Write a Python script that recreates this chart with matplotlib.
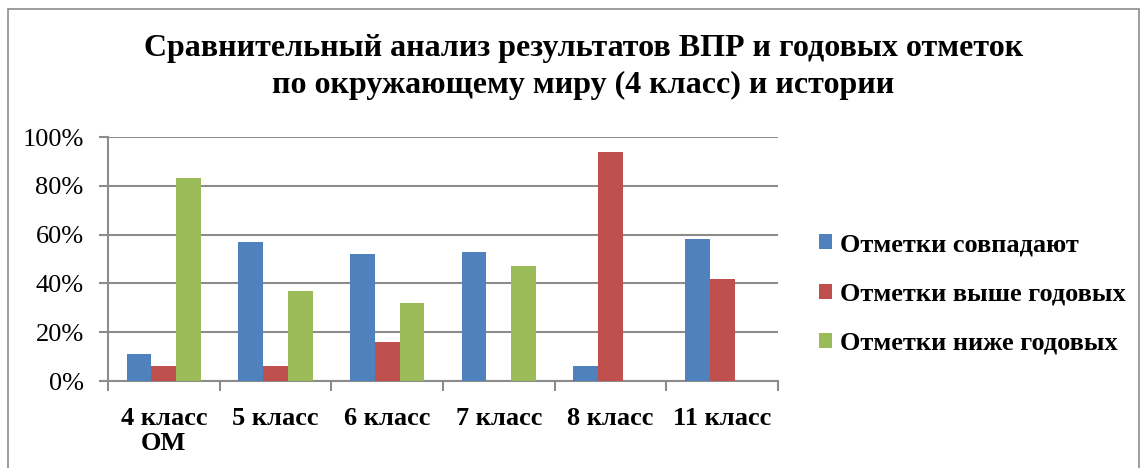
import matplotlib
matplotlib.use("Agg")
import matplotlib.pyplot as plt
from matplotlib.patches import Rectangle
from matplotlib.ticker import FixedLocator, PercentFormatter
import numpy as np

categories = ["4 класс\nОМ", "5 класс", "6 класс", "7 класс", "8 класс", "11 класс"]
series_names = ["Отметки совпадают", "Отметки выше годовых", "Отметки ниже годовых"]
match_vals = [11, 57, 52, 53, 6, 58]
above_vals = [6, 6, 16, 0, 94, 42]
below_vals = [83, 37, 32, 47, 0, 0]
colors = ["#4F81BD", "#C0504D", "#9BBB59"]
title = "Сравнительный анализ результатов ВПР и годовых отметок\nпо окружающему миру (4 класс) и истории"

plt.rcParams['font.family'] = ['Liberation Serif', 'DejaVu Serif']

fig = plt.figure(figsize=(11.44, 4.68), dpi=100)
fig.patches.append(Rectangle((8/1144, -0.05), 1131/1144, 1.05 - 9/468, transform=fig.transFigure,
                             fill=False, edgecolor="#8c8c8c", linewidth=1.2))
ax = fig.add_axes([108/1144, 1 - 381/468, 670/1144, 244/468])

x = np.arange(len(categories))
w = 1 / 4.5
for i, (vals, c, name) in enumerate(zip([match_vals, above_vals, below_vals], colors, series_names)):
    ax.bar(x + (i - 1) * w, vals, width=w, color=c, label=name, zorder=3)

ax.set_xlim(-0.5, len(categories) - 0.5)
ax.set_ylim(0, 100)
ax.set_yticks(np.arange(0, 101, 20))
ax.yaxis.set_major_formatter(PercentFormatter(decimals=0))
ax.grid(axis='y', color="#8c8c8c", linewidth=1.5, zorder=0)
ax.set_xticks(x)
ax.set_xticklabels(categories, fontweight='bold', fontsize=19, linespacing=1.1)
ax.xaxis.set_minor_locator(FixedLocator(np.arange(-0.5, len(categories), 1)))
ax.tick_params(axis='x', which='major', length=0, pad=19)
ax.tick_params(axis='x', which='minor', length=7, color="#8c8c8c", width=1.5)
ax.tick_params(axis='y', length=6.5, color="#8c8c8c", width=1.5, labelsize=19, pad=11)
for s in ['top', 'right']:
    ax.spines[s].set_visible(False)
for s in ['left', 'bottom']:
    ax.spines[s].set_color("#8c8c8c")
    ax.spines[s].set_linewidth(1.5)

fig.text(0.51, 1 - 67/468, title, ha='center', va='center', fontsize=23,
         fontweight='bold', linespacing=1.32)

ax.legend(loc='center left', bbox_to_anchor=(819/1144, 1 - 294/468), bbox_transform=fig.transFigure,
          frameon=False, prop={'weight': 'bold', 'size': 19}, handlelength=0.5, handleheight=0.5,
          handletextpad=0.3, labelspacing=1.0, borderpad=0, borderaxespad=0)

fig.savefig("out.png", dpi=100)
